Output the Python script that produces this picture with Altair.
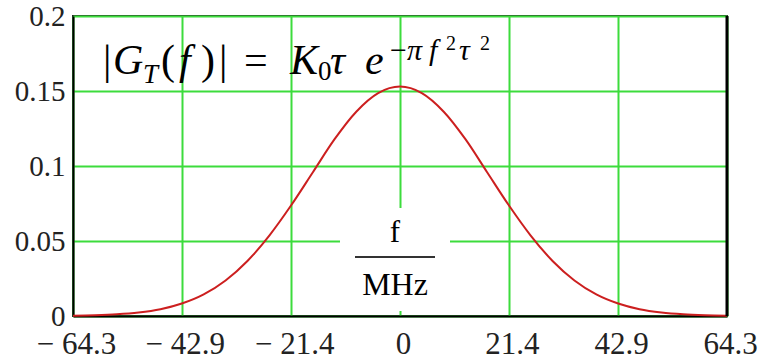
import altair as alt
import pandas as pd

# Spectrum magnitude |G_T(f)| sampled across the band (f in MHz)
freq_mhz = [-64.3, -60.0, -55.7, -51.4, -47.1, -42.9, -38.6, -34.3, -30.0, -25.7,
            -21.4, -17.1, -12.9, -8.6, -4.3, 0.0, 4.3, 8.6, 12.9, 17.1,
            21.4, 25.7, 30.0, 34.3, 38.6, 42.9, 47.1, 51.4, 55.7, 60.0, 64.3]
magnitude = [0.0002, 0.0005, 0.0011, 0.0023, 0.0045, 0.0083, 0.0144, 0.0237, 0.0367, 0.0536,
             0.0738, 0.0960, 0.1177, 0.1362, 0.1486, 0.1530, 0.1486, 0.1362, 0.1177, 0.0960,
             0.0738, 0.0536, 0.0367, 0.0237, 0.0144, 0.0083, 0.0045, 0.0023, 0.0011, 0.0005, 0.0002]

x_ticks = [-64.3, -42.9, -21.4, 0, 21.4, 42.9, 64.3]
x_tick_labels = ["\u2212 64.3", "\u2212 42.9", "\u2212 21.4", "0", "21.4", "42.9", "64.3"]
y_ticks = [0, 0.05, 0.1, 0.15, 0.2]
y_tick_labels = ["0", "0.05", "0.1", "0.15", "0.2"]

df = pd.DataFrame({"f": freq_mhz, "G": magnitude})
one = pd.DataFrame({"k": [0]})

W, H = 654, 300
GREEN = "#3cdc3c"
SERIF = "Liberation Serif"


def label_expr(values, labels):
    vals = ",".join(str(v) for v in values)
    labs = ",".join("'" + s + "'" for s in labels)
    return f"[{labs}][indexof([{vals}], datum.value)]"


x_enc = alt.X("f:Q", scale=alt.Scale(domain=[-64.3, 64.3], nice=False, zero=False),
              axis=alt.Axis(values=x_ticks, labelExpr=label_expr(x_ticks, x_tick_labels),
                            title=None, labelFontSize=31, labelPadding=13, labelOffset=3,
                            labelBaseline="top", labelFlush=False, labelOverlap=False))
y_enc = alt.Y("G:Q", scale=alt.Scale(domain=[0, 0.2], nice=False),
              axis=alt.Axis(values=y_ticks, labelExpr=label_expr(y_ticks, y_tick_labels),
                            title=None, labelFontSize=29, labelPadding=8,
                            labelFlush=False, labelOverlap=False))

curve = alt.Chart(df).mark_line(color="#cc1f1f", strokeWidth=2, interpolate="monotone").encode(
    x=x_enc, y=y_enc)


def txt(s, x, y, size, italic=False, align="left"):
    return alt.Chart(one).mark_text(
        text=s, fontSize=size, font=SERIF, fontStyle="italic" if italic else "normal",
        align=align, baseline="alphabetic", color="black"
    ).encode(x=alt.value(x), y=alt.value(y))


# axis-unit label with a blank box behind it
label_box = alt.Chart(one).mark_rect(color="white").encode(
    x=alt.value(267), x2=alt.value(377), y=alt.value(192), y2=alt.value(295))
frac_bar = alt.Chart(one).mark_rule(color="#333", strokeWidth=2).encode(
    x=alt.value(282), x2=alt.value(362), y=alt.value(241))
unit_f = txt("f", 322, 226, 31, align="center")
unit_mhz = txt("MHz", 322, 279, 32, align="center")

# formula |G_T(f)| = K0 tau e^(-pi f^2 tau^2)
formula = [
    txt("|", 30, 58, 42),
    txt("G", 40, 58, 42, italic=True),
    txt("T", 70, 67, 27, italic=True),
    txt("(", 88, 58, 42),
    txt("f", 106, 58, 42, italic=True),
    txt(")", 128, 58, 42),
    txt("|", 146, 58, 42),
    txt("=", 171, 58, 42),
    txt("K", 217, 58, 42, italic=True),
    txt("0", 245, 64, 27),
    txt("\u03c4", 257, 58, 42, italic=True),
    txt("e", 292, 58, 42, italic=True),
    txt("\u2212", 317, 44, 30),
    txt("\u03c0", 334, 44, 30, italic=True),
    txt("f", 356, 44, 30, italic=True),
    txt("2", 373, 34, 20),
    txt("\u03c4", 386, 44, 30, italic=True),
    txt("2", 407, 34, 20),
]

right_edge = alt.Chart(one).mark_rule(color="black", strokeWidth=3).encode(
    x=alt.value(W), y=alt.value(0), y2=alt.value(H))

chart = alt.layer(curve, label_box, frac_bar, unit_f, unit_mhz, right_edge, *formula).properties(
    width=W, height=H,
    autosize=alt.AutoSizeParams(type="none"),
    padding={"left": 73, "top": 16, "right": 32, "bottom": 44},
    background="white",
).configure_axis(
    grid=True, gridColor=GREEN, gridWidth=2, gridOpacity=1,
    domain=True, domainColor="black", domainWidth=2,
    ticks=False, labelFont=SERIF, labelColor="#222",
).configure_view(stroke="#222", strokeWidth=2)

chart.save("out.html", embed_options={"renderer": "svg", "actions": False})
